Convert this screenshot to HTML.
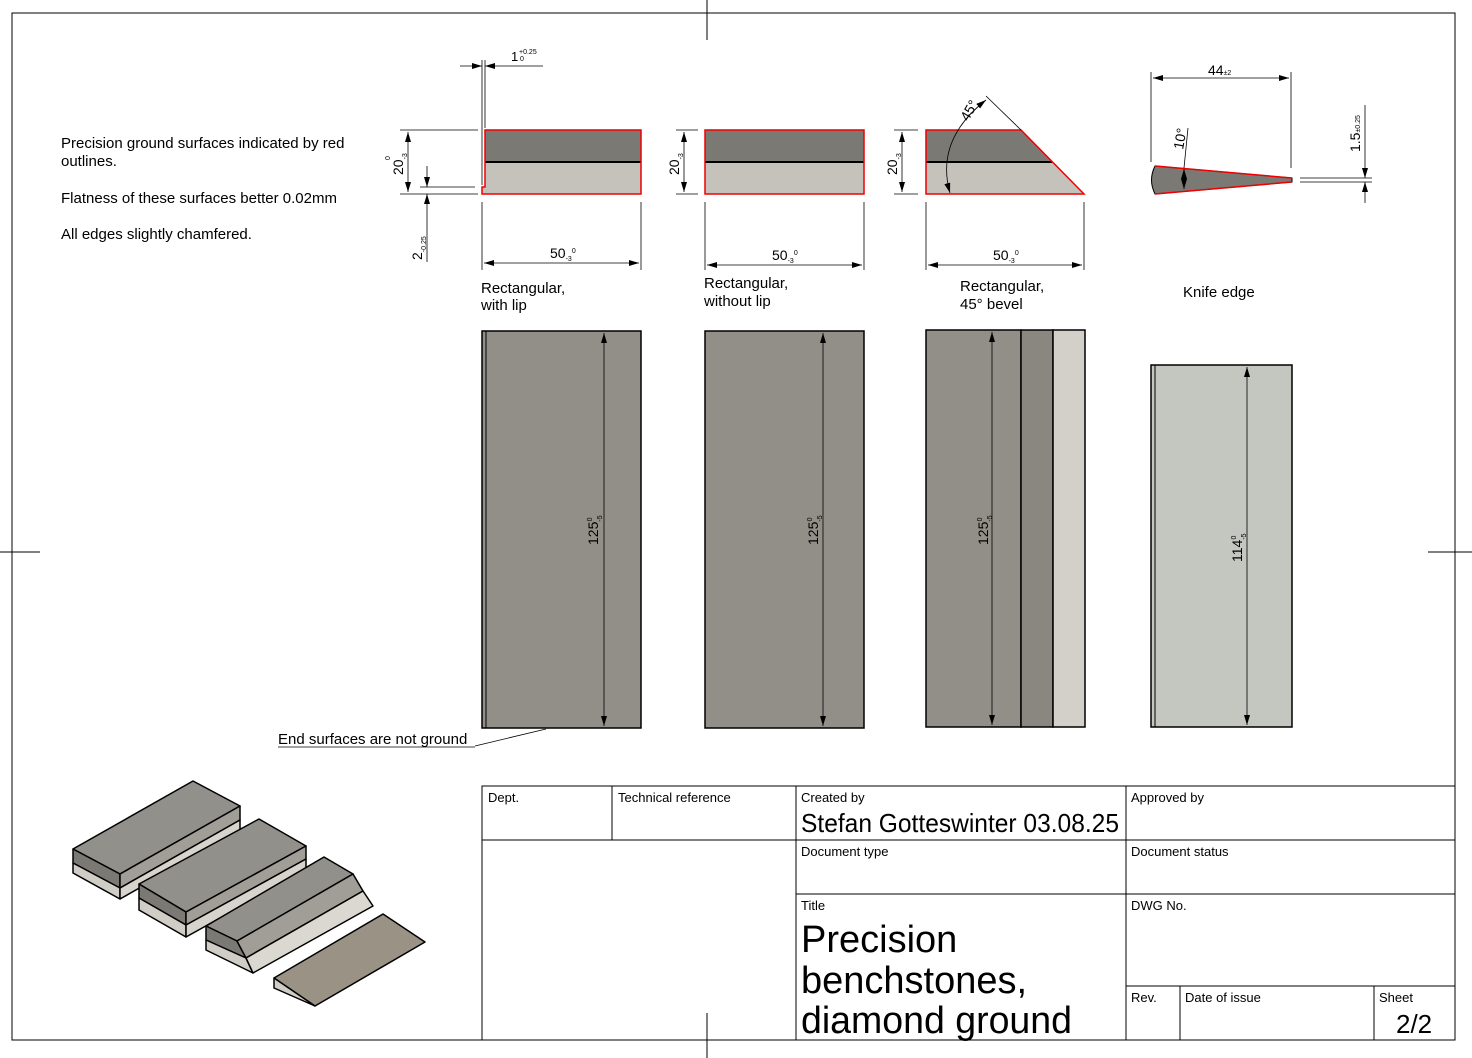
<!DOCTYPE html>
<html><head><meta charset="utf-8"><style>
html,body{margin:0;padding:0;background:#fff}
svg{display:block;font-family:"Liberation Sans",Arial,sans-serif}
</style></head><body>
<svg width="1472" height="1058" viewBox="0 0 1472 1058" xmlns="http://www.w3.org/2000/svg">
<defs>
<marker id="a" viewBox="0 0 10 6" refX="10" refY="3" markerWidth="10" markerHeight="6" orient="auto-start-reverse" markerUnits="userSpaceOnUse"><path d="M0,0L10,3L0,6z" fill="#000"/></marker>
</defs>
<rect width="1472" height="1058" fill="#fff"/>
<rect x="12" y="13" width="1443" height="1027" fill="none" stroke="#000" stroke-width="1"/>
<g stroke="#000" stroke-width="1">
<line x1="707" y1="0" x2="707" y2="40"/><line x1="707" y1="1013" x2="707" y2="1058"/>
<line x1="0" y1="552" x2="40" y2="552"/><line x1="1428" y1="552" x2="1472" y2="552"/>
</g>
<g font-size="15" fill="#000">
<text x="61" y="148">Precision ground surfaces indicated by red</text>
<text x="61" y="166">outlines.</text>
<text x="61" y="203">Flatness of these surfaces better 0.02mm</text>
<text x="61" y="239">All edges slightly chamfered.</text>
</g>

<!-- Profile 1 -->
<rect x="485" y="130" width="156" height="32" fill="#7b7973"/>
<rect x="485" y="162" width="156" height="32" fill="#c4c2bb"/>
<rect x="482" y="187" width="4" height="7" fill="#c4c2bb"/>
<line x1="485" y1="162" x2="641" y2="162" stroke="#000" stroke-width="2"/>
<path d="M485,130H641V194H482V187H485Z" fill="none" stroke="#e00" stroke-width="1.5"/>
<g stroke="#000" stroke-width="0.8" fill="none">
<line x1="485" y1="60" x2="485" y2="128"/><line x1="482" y1="60" x2="482" y2="185"/>
<line x1="460" y1="66" x2="482" y2="66" marker-end="url(#a)"/><line x1="543" y1="66" x2="485" y2="66" marker-end="url(#a)"/>
<line x1="400" y1="130" x2="478" y2="130"/><line x1="400" y1="194" x2="478" y2="194"/>
<line x1="408" y1="132" x2="408" y2="192" marker-start="url(#a)" marker-end="url(#a)"/>
<line x1="420" y1="187" x2="475" y2="187"/>
<line x1="427" y1="166" x2="427" y2="187" marker-end="url(#a)"/><line x1="427" y1="262" x2="427" y2="194" marker-end="url(#a)"/>
<line x1="482" y1="202" x2="482" y2="270"/><line x1="641" y1="202" x2="641" y2="270"/>
<line x1="484" y1="263" x2="639" y2="263" marker-start="url(#a)" marker-end="url(#a)"/>
</g>
<text x="511" y="61" font-size="13">1</text><text x="519" y="54" font-size="7">+0.25</text><text x="520" y="61" font-size="7">0</text>
<text transform="translate(403,175) rotate(-90)" font-size="14">20<tspan font-size="7" dy="4">-3</tspan></text>
<text transform="translate(390,160) rotate(-90)" font-size="7">0</text>
<text transform="translate(422,260) rotate(-90)" font-size="14">2<tspan font-size="7" dy="4">-0.25</tspan></text>
<text x="550" y="258" font-size="14">50<tspan font-size="7" dy="3">-3</tspan><tspan font-size="7" dy="-8">0</tspan></text>
<text x="481" y="293" font-size="15">Rectangular,</text><text x="481" y="310" font-size="15">with lip</text>

<!-- Profile 2 -->
<rect x="705" y="130" width="159" height="32" fill="#7b7973"/>
<rect x="705" y="162" width="159" height="32" fill="#c4c2bb"/>
<line x1="705" y1="162" x2="864" y2="162" stroke="#000" stroke-width="2"/>
<rect x="705" y="130" width="159" height="64" fill="none" stroke="#e00" stroke-width="1.5"/>
<g stroke="#000" stroke-width="0.8">
<line x1="676" y1="130" x2="698" y2="130"/><line x1="676" y1="194" x2="698" y2="194"/>
<line x1="684" y1="132" x2="684" y2="192" marker-start="url(#a)" marker-end="url(#a)"/>
<line x1="705" y1="202" x2="705" y2="270"/><line x1="864" y1="202" x2="864" y2="270"/>
<line x1="707" y1="265" x2="862" y2="265" marker-start="url(#a)" marker-end="url(#a)"/>
</g>
<text transform="translate(679,175) rotate(-90)" font-size="14">20<tspan font-size="7" dy="4">-3</tspan></text>
<text x="772" y="260" font-size="14">50<tspan font-size="7" dy="3">-3</tspan><tspan font-size="7" dy="-8">0</tspan></text>
<text x="704" y="288" font-size="15">Rectangular,</text><text x="704" y="306" font-size="15">without lip</text>

<!-- Profile 3 -->
<path d="M926,130H1021L1052,162H926Z" fill="#7b7973"/>
<path d="M926,162H1052L1084,194H926Z" fill="#c4c2bb"/>
<line x1="926" y1="162" x2="1052" y2="162" stroke="#000" stroke-width="2"/>
<path d="M926,130H1021L1084,194H926Z" fill="none" stroke="#e00" stroke-width="1.5"/>
<g stroke="#000" stroke-width="0.8" fill="none">
<line x1="1021" y1="130" x2="986" y2="96"/>
<path d="M986,100 Q935,140 950,193" marker-start="url(#a)" marker-end="url(#a)"/>
<line x1="894" y1="130" x2="918" y2="130"/><line x1="894" y1="194" x2="918" y2="194"/>
<line x1="902" y1="132" x2="902" y2="192" marker-start="url(#a)" marker-end="url(#a)"/>
<line x1="926" y1="202" x2="926" y2="270"/><line x1="1084" y1="202" x2="1084" y2="270"/>
<line x1="928" y1="265" x2="1082" y2="265" marker-start="url(#a)" marker-end="url(#a)"/>
</g>
<text transform="translate(968,122) rotate(-60)" font-size="14">45°</text>
<text transform="translate(897,175) rotate(-90)" font-size="14">20<tspan font-size="7" dy="4">-3</tspan></text>
<text x="993" y="260" font-size="14">50<tspan font-size="7" dy="3">-3</tspan><tspan font-size="7" dy="-8">0</tspan></text>
<text x="960" y="291" font-size="15">Rectangular,</text><text x="960" y="309" font-size="15">45° bevel</text>

<!-- Knife -->
<path d="M1155,166L1292,178V182L1155,194Q1148,180 1155,166Z" fill="#7b7973" stroke="#000" stroke-width="1"/>
<path d="M1155,166L1292,178M1292,182L1155,194" stroke="#e00" stroke-width="1.5" fill="none"/>
<g stroke="#000" stroke-width="0.8" fill="none">
<line x1="1151" y1="72" x2="1151" y2="162"/><line x1="1291" y1="72" x2="1291" y2="168"/>
<line x1="1153" y1="78" x2="1289" y2="78" marker-start="url(#a)" marker-end="url(#a)"/>
<line x1="1188" y1="128" x2="1184" y2="168"/>
<line x1="1184" y1="169" x2="1184" y2="189" marker-start="url(#a)" marker-end="url(#a)"/>
<line x1="1300" y1="178" x2="1372" y2="178"/><line x1="1300" y1="182" x2="1372" y2="182"/>
<line x1="1365" y1="105" x2="1365" y2="178" marker-end="url(#a)"/><line x1="1365" y1="203" x2="1365" y2="182" marker-end="url(#a)"/>
</g>
<text x="1208" y="75" font-size="14">44<tspan font-size="7">±2</tspan></text>
<text transform="translate(1183,150) rotate(-80)" font-size="14">10°</text>
<text transform="translate(1360,152) rotate(-90)" font-size="14">1.5<tspan font-size="7">±0.25</tspan></text>
<text x="1183" y="297" font-size="15">Knife edge</text>

<!-- Plan views -->
<g stroke="#000" stroke-width="1.5">
<rect x="482" y="331" width="159" height="397" fill="#918f88"/>
<line x1="486" y1="331" x2="486" y2="728" stroke-width="1"/>
<rect x="705" y="331" width="159" height="397" fill="#918f88"/>
<rect x="926" y="330" width="95" height="397" fill="#918f88"/>
<rect x="1021" y="330" width="32" height="397" fill="#8a8780"/>
<rect x="1053" y="330" width="32" height="397" fill="#d3d0c9"/>
<rect x="1151" y="365" width="141" height="362" fill="#c4c6c0"/>
<line x1="1155" y1="365" x2="1155" y2="727" stroke-width="1"/>
</g>
<g stroke="#000" stroke-width="0.8">
<line x1="604" y1="333" x2="604" y2="726" marker-start="url(#a)" marker-end="url(#a)"/>
<line x1="823" y1="333" x2="823" y2="726" marker-start="url(#a)" marker-end="url(#a)"/>
<line x1="992" y1="332" x2="992" y2="725" marker-start="url(#a)" marker-end="url(#a)"/>
<line x1="1247" y1="367" x2="1247" y2="725" marker-start="url(#a)" marker-end="url(#a)"/>
<line x1="475" y1="746" x2="546" y2="729"/>
</g>
<text transform="translate(598,545) rotate(-90)" font-size="14">125<tspan font-size="7" dy="4">-5</tspan><tspan font-size="7" dy="-10" dx="-6">0</tspan></text>
<text transform="translate(818,545) rotate(-90)" font-size="14">125<tspan font-size="7" dy="4">-5</tspan><tspan font-size="7" dy="-10" dx="-6">0</tspan></text>
<text transform="translate(988,545) rotate(-90)" font-size="14">125<tspan font-size="7" dy="4">-5</tspan><tspan font-size="7" dy="-10" dx="-6">0</tspan></text>
<text transform="translate(1242,562) rotate(-90)" font-size="14">114<tspan font-size="7" dy="4">-5</tspan><tspan font-size="7" dy="-10" dx="-6">0</tspan></text>
<text x="278" y="744" font-size="15">End surfaces are not ground</text>
<line x1="278" y1="747" x2="475" y2="747" stroke="#000" stroke-width="0.8"/>

<!-- Isometric -->
<g stroke="#000" stroke-width="1.5" stroke-linejoin="round">
<path d="M73,849L193,781L240,806L120,874Z" fill="#92908a"/>
<path d="M73,849L120,874V888L73,863Z" fill="#7b7973"/><path d="M120,874L240,806V820L120,888Z" fill="#a09e97"/>
<path d="M73,863L120,888V899L73,873Z" fill="#cfcdc6"/><path d="M120,888L240,820V831L120,899Z" fill="#d6d4cc"/>
<path d="M139,884L259,819L306,846L186,912Z" fill="#92908a"/>
<path d="M139,884L186,912V925L139,898Z" fill="#7b7973"/><path d="M186,912L306,846V859L186,925Z" fill="#a09e97"/>
<path d="M139,898L186,925V937L139,910Z" fill="#cfcdc6"/><path d="M186,925L306,859V870L186,937Z" fill="#d6d4cc"/>
<path d="M206,926L324,857L353,874L237,941Z" fill="#92908a"/>
<path d="M206,926L237,941L246,958L206,940Z" fill="#7b7973"/><path d="M237,941L353,874L363,891L246,958Z" fill="#a09e97"/>
<path d="M206,940L246,958L253,973L206,950Z" fill="#cfcdc6"/><path d="M246,958L363,891L373,906L253,973Z" fill="#dad8d0"/>
<path d="M274,978L383,914L425,942L315,1006Z" fill="#9a9385"/>
<path d="M274,978L315,1006L274,988Z" fill="#cfcdc6"/>
</g>

<!-- Title block -->
<g stroke="#000" stroke-width="1" fill="none">
<rect x="482" y="786" width="973" height="254"/>
<line x1="482" y1="840" x2="1455" y2="840"/>
<line x1="796" y1="894" x2="1455" y2="894"/>
<line x1="1126" y1="986" x2="1455" y2="986"/>
<line x1="612" y1="786" x2="612" y2="840"/>
<line x1="796" y1="786" x2="796" y2="1040"/>
<line x1="1126" y1="786" x2="1126" y2="1040"/>
<line x1="1180" y1="986" x2="1180" y2="1040"/>
<line x1="1374" y1="986" x2="1374" y2="1040"/>
</g>
<g font-size="13" fill="#000">
<text x="488" y="802">Dept.</text><text x="618" y="802">Technical reference</text>
<text x="801" y="802">Created by</text><text x="1131" y="802">Approved by</text>
<text x="801" y="856">Document type</text><text x="1131" y="856">Document status</text>
<text x="801" y="910">Title</text><text x="1131" y="910">DWG No.</text>
<text x="1131" y="1002">Rev.</text><text x="1185" y="1002">Date of issue</text><text x="1379" y="1002">Sheet</text>
</g>
<text x="801" y="832" font-size="26" textLength="318" lengthAdjust="spacingAndGlyphs">Stefan Gotteswinter  03.08.25</text>
<g font-size="38"><text x="801" y="952">Precision</text><text x="801" y="993">benchstones,</text><text x="801" y="1033" textLength="271" lengthAdjust="spacingAndGlyphs">diamond ground</text></g>
<text x="1396" y="1033" font-size="26">2/2</text>
</svg>
</body></html>
